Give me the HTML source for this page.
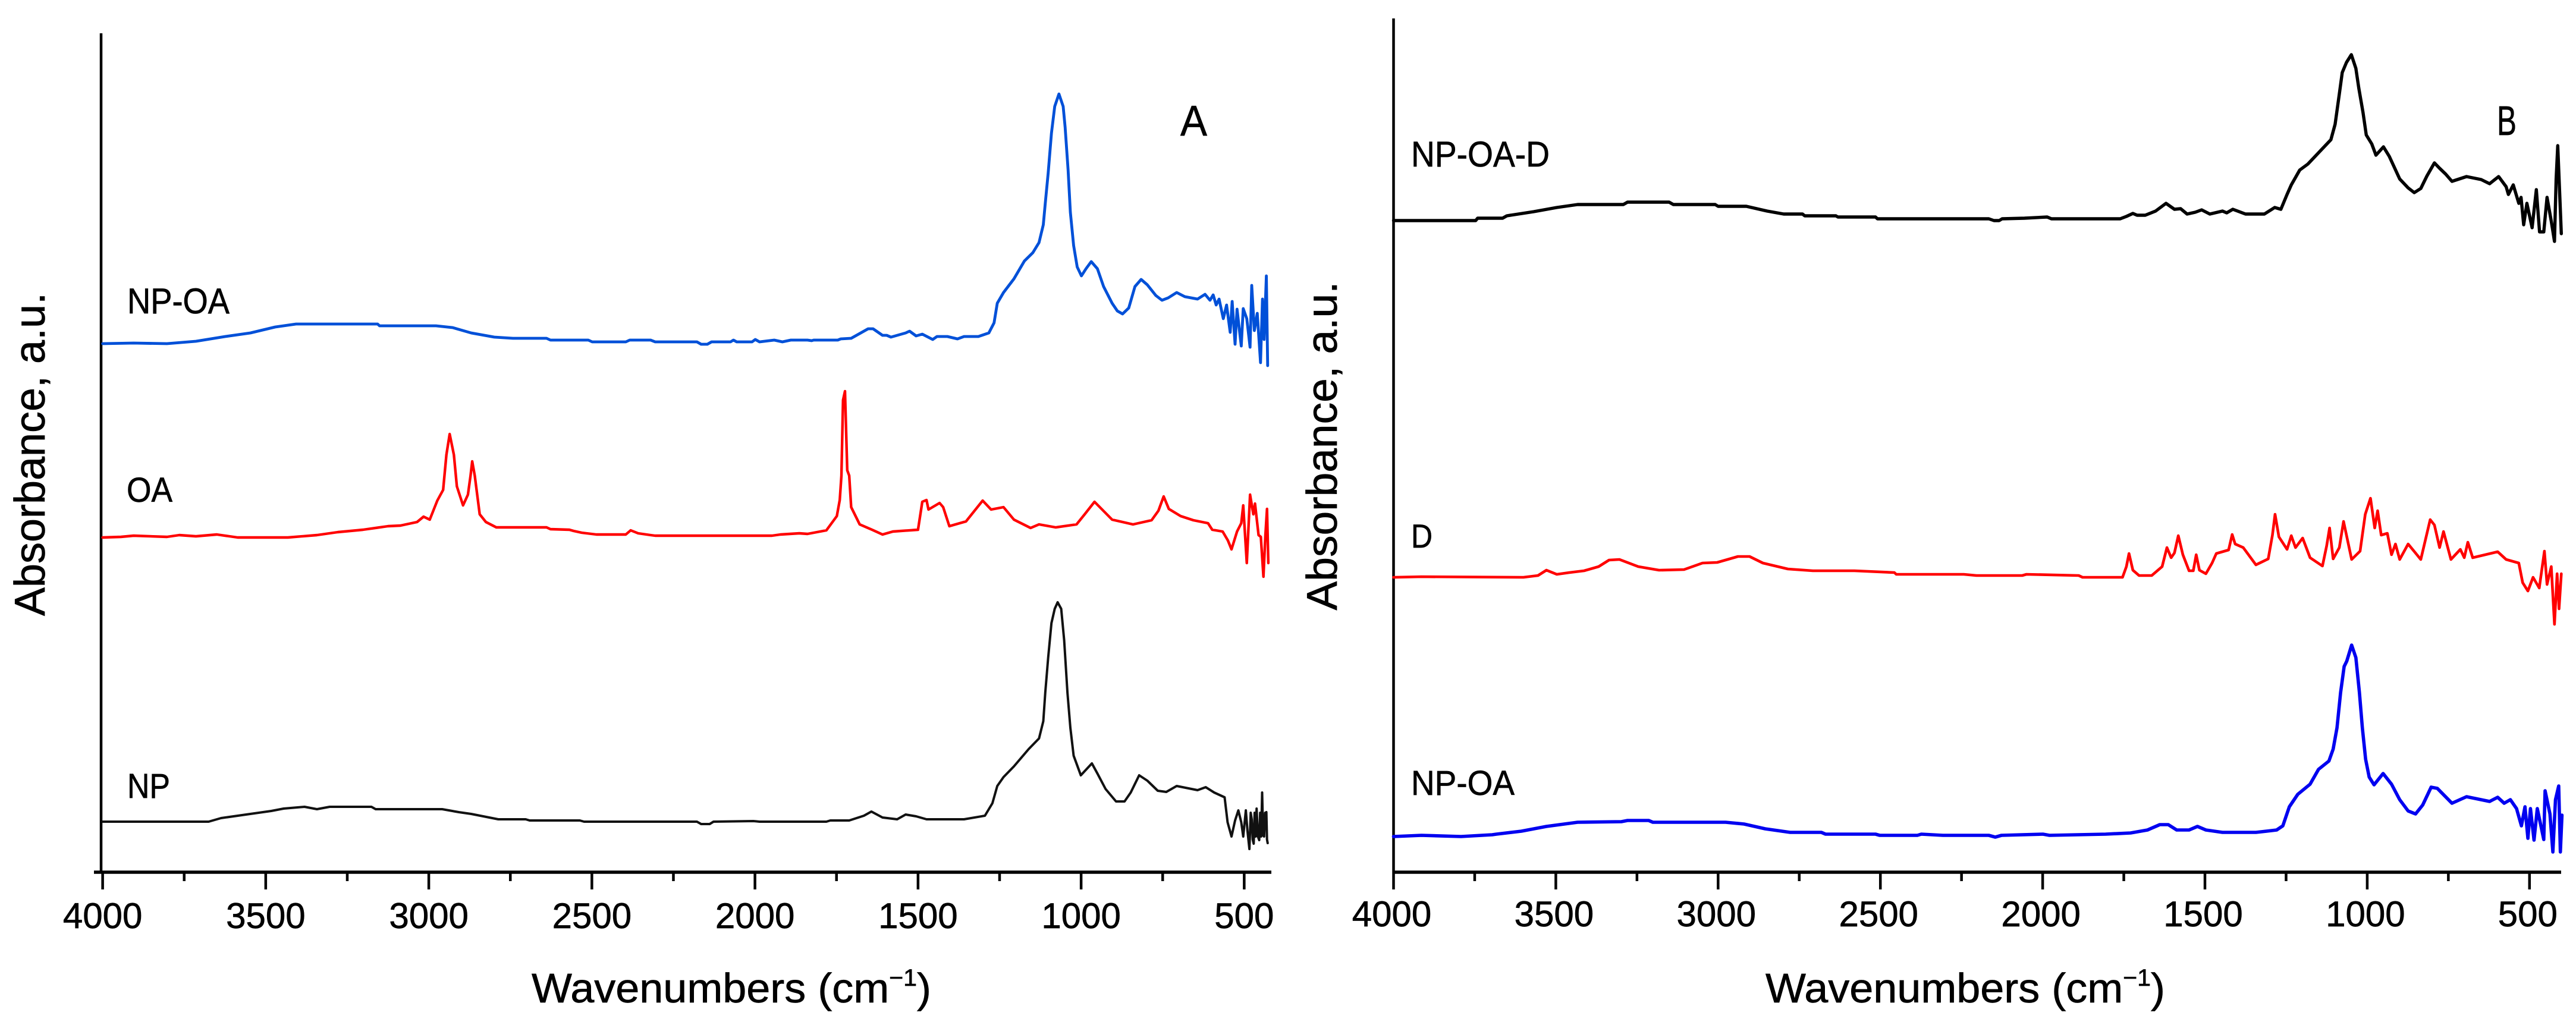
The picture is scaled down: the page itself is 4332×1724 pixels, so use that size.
<!DOCTYPE html>
<html lang="en">
<head>
<meta charset="utf-8">
<title>FTIR spectra panels A and B</title>
<style>
html,body{margin:0;padding:0;background:#fff;}
svg{display:block;}
text{font-family:"Liberation Sans",sans-serif;fill:#000;stroke:#000;stroke-width:0.7px;}
</style>
</head>
<body>
<svg id="chart" xmlns="http://www.w3.org/2000/svg" width="4332" height="1724" viewBox="0 0 4332 1724"></svg>
<script>
// Axis data
const majorTicks = [4000, 3500, 3000, 2500, 2000, 1500, 1000, 500];
const minorTicks = [3750, 3250, 2750, 2250, 1750, 1250, 750];
const tickLabels = ["4000", "3500", "3000", "2500", "2000", "1500", "1000", "500"];

// Panel A, NP-OA
const aNpoaWn = [4000,3905,3803,3714,3624,3547,3471,3407,3157,3151,2978,2927,2870,2799,2742,2639,2627,2511,2499,2396,2384,2320,2306,2178,2165,2146,2133,2075,2066,2056,2009,1999,1986,1941,1916,1890,1839,1826,1820,1746,1737,1705,1679,1653,1638,1609,1596,1583,1538,1526,1506,1487,1455,1442,1410,1379,1359,1315,1283,1267,1257,1238,1206,1174,1148,1129,1116,1110,1101,1091,1081,1068,1055,1049,1040,1033,1023,1012,999,985,969,950,931,905,889,873,854,835,816,797,771,752,733,707,682,643,620,605,595,586,577,564,554,543,537,528,522,509,503,492,482,477,469,460,450,444,439,432,428];
const aNpoaAbs = [889,890,889,893,901,907,917,922,922,919,919,916,907,900,898,898,895,895,892,892,895,895,892,892,888,888,892,892,895,892,892,896,892,895,892,895,895,894,895,895,897,898,906,914,914,903,903,900,907,910,902,905,896,901,901,897,901,901,907,924,957,975,998,1028,1042,1059,1089,1125,1176,1243,1288,1309,1288,1253,1181,1110,1054,1018,1003,1015,1027,1015,985,957,944,939,949,985,997,988,970,962,966,975,968,964,972,962,971,954,964,931,954,908,960,888,947,885,948,931,883,987,911,940,857,964,896,1003,852];

// Panel A, OA
const aOaWn = [4000,3944,3905,3803,3765,3714,3650,3586,3522,3432,3343,3279,3202,3125,3087,3036,3016,2997,2974,2956,2946,2936,2923,2914,2895,2880,2872,2867,2859,2844,2825,2793,2639,2627,2569,2556,2531,2486,2396,2381,2358,2320,2306,1948,1922,1864,1839,1781,1749,1740,1735,1730,1724,1717,1711,1705,1679,1641,1609,1577,1500,1487,1474,1468,1434,1423,1404,1385,1353,1302,1276,1238,1206,1155,1129,1078,1014,989,959,905,841,784,763,747,731,695,656,611,598,566,550,539,522,509,503,492,482,472,467,456,449,441,435,430,426];
const aOaAbs = [563,564,566,564,567,565,568,563,563,563,567,572,576,582,583,589,598,593,625,643,702,737,702,649,617,635,667,691,667,602,589,580,580,577,576,574,571,568,568,575,570,567,566,566,568,570,569,575,599,626,667,794,809,676,667,614,585,576,568,573,576,623,626,610,621,614,582,585,590,625,610,614,593,579,585,580,585,602,623,593,585,592,608,632,611,599,592,587,576,573,558,543,573,587,617,520,635,602,620,567,564,497,567,611,520];

// Panel A, NP
const aNpWn = [4000,3675,3637,3560,3483,3445,3381,3343,3304,3176,3163,2959,2908,2870,2787,2703,2691,2537,2524,2178,2165,2139,2127,2005,1986,1781,1769,1711,1666,1643,1609,1564,1538,1506,1474,1359,1295,1272,1257,1238,1206,1161,1129,1116,1110,1101,1091,1081,1072,1061,1052,1042,1033,1023,1001,967,950,925,893,867,848,822,797,765,739,707,643,618,592,560,551,539,528,518,509,503,495,490,484,480,477,474,471,468,465,462,458,454,451,448,445,442,439,436,432,430,428];
const aNpAbs = [85,85,91,97,103,107,110,106,110,110,106,106,101,98,89,89,87,87,85,85,81,81,85,86,85,85,87,87,95,102,92,89,97,94,89,89,95,116,145,160,178,207,225,254,302,361,419,443,454,443,390,302,243,196,163,183,166,140,119,119,134,163,154,137,135,145,138,143,134,126,84,60,87,104,84,60,104,70,39,100,89,55,48,100,60,107,60,54,100,60,134,62,60,100,101,55,49];

// Panel B, NP-OA-D
const bNpoadWn = [4000,3747,3741,3664,3651,3568,3497,3433,3292,3279,3151,3138,3009,3000,2913,2849,2798,2740,2733,2637,2631,2515,2509,2166,2150,2134,2125,2056,1986,1973,1761,1742,1722,1709,1684,1652,1620,1594,1575,1555,1530,1510,1485,1446,1433,1414,1375,1317,1285,1266,1247,1234,1208,1183,1138,1112,1099,1086,1077,1064,1049,1035,1026,1013,1003,986,973,950,932,900,874,855,835,816,793,777,758,739,694,649,623,595,572,565,550,533,526,518,508,492,479,469,456,446,433,423,418,413,402];
const bNpoadAbs = [1096,1096,1100,1100,1104,1111,1118,1123,1123,1127,1127,1123,1123,1120,1120,1112,1107,1107,1104,1104,1102,1102,1099,1099,1096,1096,1099,1100,1102,1099,1099,1103,1108,1105,1105,1112,1125,1115,1116,1107,1110,1114,1107,1112,1109,1115,1107,1107,1118,1115,1140,1156,1181,1191,1217,1232,1258,1309,1345,1362,1375,1352,1319,1278,1240,1225,1206,1220,1204,1166,1151,1143,1150,1171,1193,1184,1174,1162,1170,1165,1158,1170,1153,1140,1156,1125,1135,1089,1125,1084,1148,1077,1077,1135,1095,1061,1166,1222,1074];

// Panel B, D
const bDWn = [4000,3914,3600,3555,3529,3497,3458,3413,3368,3336,3304,3246,3182,3105,3048,3003,2939,2903,2862,2785,2708,2580,2457,2451,2243,2204,2063,2050,1889,1877,1754,1742,1734,1722,1703,1664,1632,1617,1604,1594,1582,1568,1549,1536,1527,1517,1497,1478,1465,1427,1416,1407,1382,1343,1305,1292,1284,1272,1247,1234,1221,1199,1176,1138,1125,1116,1105,1086,1073,1048,1022,1006,990,977,968,957,938,925,913,900,874,835,806,793,777,765,742,713,701,690,675,598,572,533,521,505,489,470,454,446,433,423,415,409,402];
const bDAbs = [496,497,496,499,508,501,504,507,514,525,526,514,508,509,520,521,531,531,520,510,507,507,504,501,501,499,499,501,499,496,496,514,536,508,499,499,514,546,529,537,566,534,507,507,534,508,502,520,536,542,568,552,546,517,527,567,602,564,543,566,546,562,529,515,549,579,527,546,590,526,540,602,629,579,608,567,570,534,552,526,552,526,593,584,546,573,526,543,529,555,529,539,526,520,487,473,496,478,540,484,514,417,502,443,502];

// Panel B, NP-OA
const bNpoaWn = [4000,3914,3792,3696,3683,3606,3529,3433,3298,3279,3214,3201,2977,2920,2855,2778,2682,2669,2515,2502,2386,2374,2307,2166,2146,2127,1999,1979,1806,1729,1677,1639,1613,1587,1549,1523,1497,1446,1343,1279,1260,1240,1214,1176,1150,1118,1105,1093,1082,1071,1063,1048,1035,1024,1015,1005,994,979,951,925,900,874,851,829,803,784,739,694,623,598,578,559,540,525,514,505,497,486,476,456,452,437,428,420,410,405,400];
const bNpoaAbs = [60,62,60,63,64,69,77,84,85,87,87,84,84,81,73,67,67,64,64,62,62,64,62,62,59,62,64,62,64,66,71,80,80,71,71,77,71,67,67,71,78,110,131,148,173,187,207,243,302,346,355,382,361,302,243,190,160,147,166,148,122,103,98,113,143,141,116,127,119,126,116,122,107,78,110,57,107,54,107,55,137,98,34,122,145,34,96];

const svgNS = "http://www.w3.org/2000/svg";
const root = document.getElementById("chart");

function add(parent, tag, attrs) {
  const el = document.createElementNS(svgNS, tag);
  for (const k in attrs) el.setAttribute(k, attrs[k]);
  parent.appendChild(el);
  return el;
}

const panels = [
  { key: "a", x4000: 172.6, perUnit: 0.5485, axisLeft: 158, axisRight: 2138, spineX: 170, spineTop: 56, baseY: 1467, labelBase: 1561, labelShift: 0 },
  { key: "b", x4000: 2343.5, perUnit: 0.5458, axisLeft: 2342, axisRight: 4307, spineX: 2343.5, spineTop: 31, baseY: 1467, labelBase: 1558, labelShift: -3 }
];

function xScale(p, w) { return p.x4000 + (4000 - w) * p.perUnit; }
function yScale(p, v) { return p.baseY - v; }

function drawAxes(p) {
  const g = add(root, "g", {});
  
  

  const spine = add(g, "line", { x1: p.spineX, x2: p.spineX, y1: p.spineTop, y2: p.baseY, stroke: "#000", "stroke-width": 4.5 });
  
  

  const base = add(g, "line", { x1: p.axisLeft, x2: p.axisRight, y1: p.baseY, y2: p.baseY, stroke: "#000", "stroke-width": 5.5 });
  
  

  majorTicks.forEach(function (w, i) {
    const tx = xScale(p, w);
    const t = add(g, "line", { x1: tx, x2: tx, y1: p.baseY, y2: p.baseY + 29, stroke: "#000", "stroke-width": 4.5 });
    
    
    const lab = add(g, "text", { x: tx + p.labelShift, y: p.labelBase, "text-anchor": "middle", "font-size": 60 });
    
    
    lab.textContent = tickLabels[i];
  });

  minorTicks.forEach(function (w) {
    const tx = xScale(p, w);
    const t = add(g, "line", { x1: tx, x2: tx, y1: p.baseY, y2: p.baseY + 15, stroke: "#000", "stroke-width": 4.5 });
    
    
  });
}

function drawSeries(p, wn, abs, color, width, name) {
  let d = "";
  wn.forEach(function (w, i) {
    d += (i ? "L" : "M") + xScale(p, w).toFixed(1) + " " + yScale(p, abs[i]).toFixed(1);
  });
  const path = add(root, "path", { d: d, fill: "none", stroke: color, "stroke-width": width, "stroke-linejoin": "round", "stroke-linecap": "round" });
  
  
}

drawAxes(panels[0]);
drawAxes(panels[1]);

drawSeries(panels[0], aNpoaWn, aNpoaAbs, "#0050d8", 4.8, "series-a-np-oa");
drawSeries(panels[0], aOaWn, aOaAbs, "#ff0000", 4.4, "series-a-oa");
drawSeries(panels[0], aNpWn, aNpAbs, "#111111", 4, "series-a-np");
drawSeries(panels[1], bNpoadWn, bNpoadAbs, "#000000", 5.4, "series-b-np-oa-d");
drawSeries(panels[1], bDWn, bDAbs, "#ff0000", 4.6, "series-b-d");
drawSeries(panels[1], bNpoaWn, bNpoaAbs, "#0000f0", 5.6, "series-b-np-oa");
</script>

<script>
(function () {
  const svg = document.getElementById("chart");
  const ns = "http://www.w3.org/2000/svg";
  const holder = document.createElementNS(ns, "g");
  holder.innerHTML =
    '<text transform="translate(75,764) rotate(-90)" text-anchor="middle" font-size="72" textLength="544" lengthAdjust="spacingAndGlyphs">Absorbance, a.u.</text>' +
    '<text transform="translate(2248,750) rotate(-90)" text-anchor="middle" font-size="72" textLength="553" lengthAdjust="spacingAndGlyphs">Absorbance, a.u.</text>' +
    '<text x="894" y="1686" font-size="70" textLength="672" lengthAdjust="spacingAndGlyphs">Wavenumbers (cm<tspan font-size="40" dy="-28">−1</tspan><tspan dy="28">)</tspan></text>' +
    '<text x="2969" y="1686" font-size="70" textLength="672" lengthAdjust="spacingAndGlyphs">Wavenumbers (cm<tspan font-size="40" dy="-28">−1</tspan><tspan dy="28">)</tspan></text>' +
    '<text x="214" y="527" font-size="60" textLength="172" lengthAdjust="spacingAndGlyphs">NP-OA</text>' +
    '<text x="213" y="844" font-size="58" textLength="77" lengthAdjust="spacingAndGlyphs">OA</text>' +
    '<text x="214" y="1342" font-size="58" textLength="72" lengthAdjust="spacingAndGlyphs">NP</text>' +
    '<text x="1985" y="228" font-size="72" textLength="45" lengthAdjust="spacingAndGlyphs">A</text>' +
    '<text x="2373" y="280" font-size="60" textLength="233" lengthAdjust="spacingAndGlyphs">NP-OA-D</text>' +
    '<text x="2373" y="921" font-size="56" textLength="36" lengthAdjust="spacingAndGlyphs">D</text>' +
    '<text x="2373" y="1337" font-size="58" textLength="174" lengthAdjust="spacingAndGlyphs">NP-OA</text>' +
    '<text x="4199" y="227" font-size="70" textLength="33" lengthAdjust="spacingAndGlyphs">B</text>';
  svg.appendChild(holder);
})();
</script>
</body>
</html>
